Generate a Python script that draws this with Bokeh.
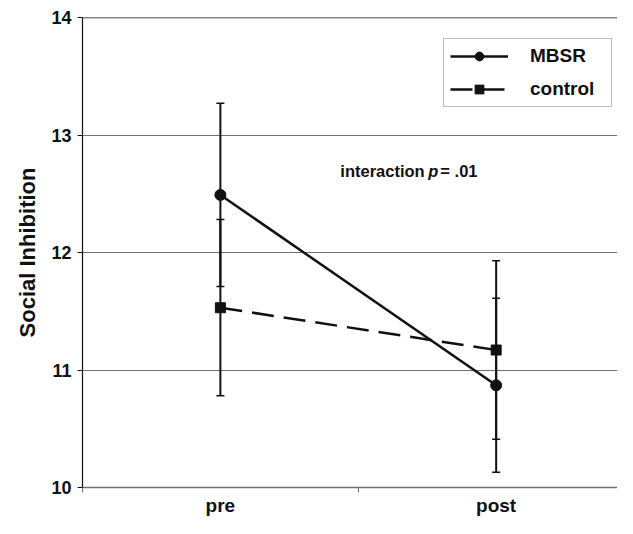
from bokeh.plotting import figure
from bokeh.models import (ColumnDataSource, Whisker, TeeHead, FixedTicker, Legend,
                          LegendItem, Label, Span, Range1d)
from bokeh.embed import file_html
from bokeh.resources import INLINE

# ---- data ----
times = ["pre", "post"]
x_pos = [0.5, 1.5]
x_bounds = [0, 1, 2]
mbsr_mean = [12.49, 10.87]
mbsr_upper = [13.27, 11.61]
mbsr_lower = [11.71, 10.13]
ctrl_mean = [11.53, 11.17]
ctrl_upper = [12.28, 11.93]
ctrl_lower = [10.78, 10.41]
y_ticks = [10, 11, 12, 13, 14]

FONT = "Liberation Sans"
INK = "#111111"

p = figure(width=617, height=518, output_backend="svg", toolbar_location=None,
           x_range=Range1d(0, 1.94), y_range=Range1d(10, 14),
           min_border_left=82, min_border_right=0, min_border_top=17, min_border_bottom=29)
p.outline_line_color = None
p.background_fill_color = "white"

# grid
p.xgrid.visible = False
p.ygrid.ticker = FixedTicker(ticks=y_ticks[1:-1])
p.ygrid.grid_line_color = "#707070"
p.ygrid.grid_line_width = 1.2
p.add_layout(Span(location=y_ticks[-1], dimension="width", line_color=INK, line_width=1.5))

# y axis
p.yaxis.ticker = FixedTicker(ticks=y_ticks)
p.yaxis.axis_label = "Social Inhibition"
p.yaxis.axis_label_text_font = FONT
p.yaxis.axis_label_text_font_style = "bold"
p.yaxis.axis_label_text_font_size = "22px"
p.yaxis.axis_label_text_color = INK
p.yaxis.axis_label_standoff = 8
p.yaxis.major_label_text_font = FONT
p.yaxis.major_label_text_font_style = "bold"
p.yaxis.major_label_text_font_size = "18px"
p.yaxis.major_label_text_color = INK
p.yaxis.major_label_standoff = 6
p.yaxis.major_tick_in = 0
p.yaxis.major_tick_out = 5
p.yaxis.minor_tick_in = 0
p.yaxis.minor_tick_out = 0
p.yaxis.axis_line_color = INK
p.yaxis.axis_line_width = 1.2
p.yaxis.major_tick_line_color = INK

# x axis
p.xaxis.ticker = FixedTicker(ticks=x_pos, minor_ticks=x_bounds)
p.xaxis.major_label_overrides = {x: t for x, t in zip(x_pos, times)}
p.xaxis.major_label_text_font = FONT
p.xaxis.major_label_text_font_style = "bold"
p.xaxis.major_label_text_font_size = "19px"
p.xaxis.major_label_text_color = INK
p.xaxis.major_label_standoff = 2
p.xaxis.major_tick_in = 0
p.xaxis.major_tick_out = 0
p.xaxis.minor_tick_in = 0
p.xaxis.minor_tick_out = 5
p.xaxis.minor_tick_line_color = "#707070"
p.xaxis.axis_line_color = "#707070"
p.xaxis.axis_line_width = 1.5

# error bars
src_m = ColumnDataSource(dict(x=x_pos, m=mbsr_mean, u=mbsr_upper, l=mbsr_lower))
src_c = ColumnDataSource(dict(x=x_pos, m=ctrl_mean, u=ctrl_upper, l=ctrl_lower))
for src in (src_c, src_m):
    w = Whisker(base="x", upper="u", lower="l", source=src, line_color=INK, line_width=2,
                upper_head=TeeHead(size=8, line_width=1.5, line_color=INK),
                lower_head=TeeHead(size=8, line_width=1.5, line_color=INK))
    p.add_layout(w)

# lines and markers
lm = p.line("x", "m", source=src_m, line_color=INK, line_width=2.5)
sm = p.scatter("x", "m", source=src_m, marker="circle", size=11, fill_color=INK, line_color=INK)
lc = p.line("x", "m", source=src_c, line_color=INK, line_width=2.5, line_dash="22 10")
sc = p.scatter("x", "m", source=src_c, marker="square", size=10, fill_color=INK, line_color=INK)

legend = Legend(items=[LegendItem(label="MBSR", renderers=[lm, sm]),
                       LegendItem(label="control", renderers=[lc, sc])],
                location=(361, 380))
legend.border_line_color = "#808080"
legend.border_line_width = 1.5
legend.label_text_font = FONT
legend.label_text_font_style = "bold"
legend.label_text_font_size = "19px"
legend.label_text_color = INK
legend.glyph_width = 58
legend.glyph_height = 22
legend.label_height = 22
legend.spacing = 11
legend.padding = 6
legend.margin = 0
legend.label_standoff = 22
legend.label_width = 75
legend.background_fill_color = "white"
legend.background_fill_alpha = 1
p.add_layout(legend)

# annotation
ann_x, ann_y = 0.935, 12.62
common = dict(text_font=FONT, text_font_size="16.5px", text_color=INK)
p.add_layout(Label(x=ann_x, y=ann_y, text="interaction", text_font_style="bold", **common))
p.add_layout(Label(x=ann_x, y=ann_y, x_offset=88, text="p", text_font_style="bold italic", **common))
p.add_layout(Label(x=ann_x, y=ann_y, x_offset=100, text="= .01", text_font_style="bold", **common))

open("out.html", "w").write(file_html(p, INLINE))
